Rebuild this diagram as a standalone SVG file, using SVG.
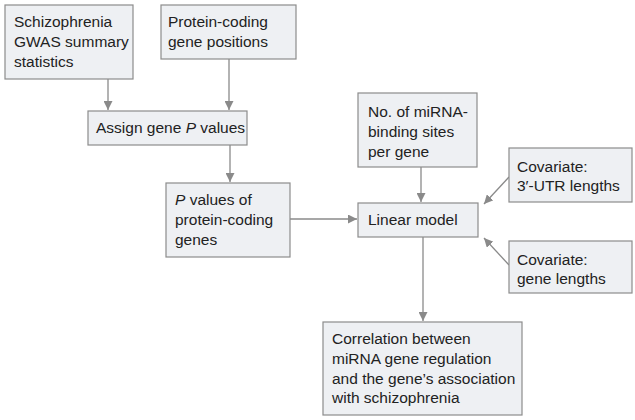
<svg xmlns="http://www.w3.org/2000/svg" width="635" height="420" viewBox="0 0 635 420">
<defs>
<marker id="ah" viewBox="0 0 10 10" refX="10" refY="5" markerWidth="9" markerHeight="9" markerUnits="userSpaceOnUse" orient="auto">
<path d="M0,0 L10,5 L0,10 Z" fill="#8a8a8a"/>
</marker>
<style>
.box{fill:#eef0f3;stroke:#8c8c8c;stroke-width:1.2}
.t{font-family:"Liberation Sans",Arial,sans-serif;font-size:15.5px;fill:#222}
.c{stroke:#8a8a8a;stroke-width:1.3;fill:none;marker-end:url(#ah)}
</style>
</defs>
<rect width="635" height="420" fill="#ffffff"/>
<g id="connectors">
<line class="c" x1="108" y1="79" x2="108" y2="110"/>
<line class="c" x1="229" y1="59" x2="229" y2="110"/>
<line class="c" x1="230" y1="145" x2="230" y2="182"/>
<line class="c" x1="290" y1="219" x2="357" y2="219"/>
<line class="c" x1="421" y1="167" x2="421" y2="202"/>
<line class="c" x1="509" y1="177" x2="484" y2="204"/>
<line class="c" x1="509" y1="265" x2="484" y2="238"/>
<line class="c" x1="423" y1="237" x2="423" y2="321"/>
</g>
<g id="n1"><rect class="box" x="5" y="5" width="128" height="74"/>
<text class="t" x="14" y="27">Schizophrenia</text><text class="t" x="14" y="47">GWAS summary</text><text class="t" x="14" y="67">statistics</text></g>
<g id="n2"><rect class="box" x="161" y="5" width="135" height="54"/>
<text class="t" x="168" y="27">Protein-coding</text><text class="t" x="168" y="47">gene positions</text></g>
<g id="n3"><rect class="box" x="88" y="111" width="159" height="34"/>
<text class="t" x="96" y="133">Assign gene <tspan font-style="italic">P</tspan> values</text></g>
<g id="n4"><rect class="box" x="166" y="183" width="124" height="74"/>
<text class="t" x="175" y="205"><tspan font-style="italic">P</tspan> values of</text><text class="t" x="175" y="225">protein-coding</text><text class="t" x="175" y="245">genes</text></g>
<g id="n5"><rect class="box" x="358" y="93" width="119" height="74"/>
<text class="t" x="368" y="117">No. of miRNA-</text><text class="t" x="368" y="137">binding sites</text><text class="t" x="368" y="157">per gene</text></g>
<g id="n6"><rect class="box" x="358" y="203" width="120" height="34"/>
<text class="t" x="368" y="225">Linear model</text></g>
<g id="n7"><rect class="box" x="509" y="148" width="123" height="54"/>
<text class="t" x="517" y="172">Covariate:</text><text class="t" x="517" y="191">3′-UTR lengths</text></g>
<g id="n8"><rect class="box" x="509" y="241" width="123" height="52"/>
<text class="t" x="517" y="265">Covariate:</text><text class="t" x="517" y="284">gene lengths</text></g>
<g id="n9"><rect class="box" x="323" y="322" width="199" height="93"/>
<text class="t" x="332" y="344">Correlation between</text><text class="t" x="332" y="364">miRNA gene regulation</text><text class="t" x="332" y="384">and the gene’s association</text><text class="t" x="332" y="403">with schizophrenia</text></g>
</svg>
